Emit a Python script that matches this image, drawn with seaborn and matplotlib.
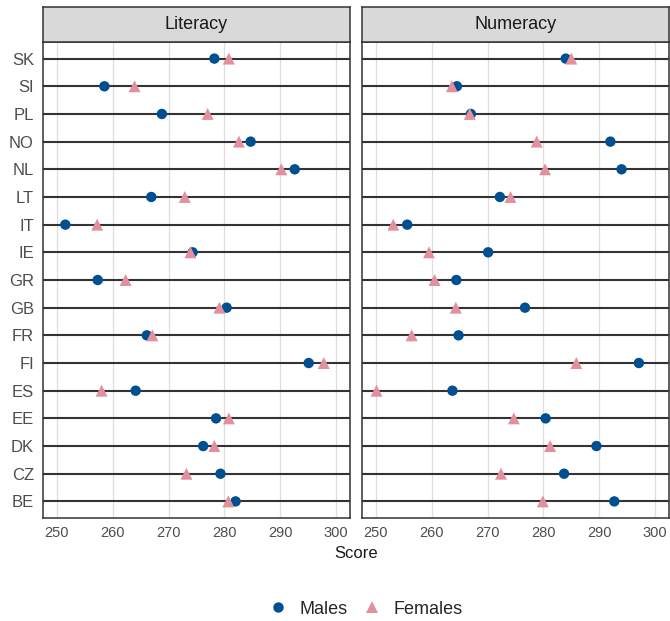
import matplotlib
matplotlib.use("Agg")
import matplotlib.pyplot as plt
import seaborn as sns
import pandas as pd

countries = ["BE", "CZ", "DK", "EE", "ES", "FI", "FR", "GB", "GR",
             "IE", "IT", "LT", "NL", "NO", "PL", "SI", "SK"]

lit_males = [282.0, 279.3, 276.2, 278.5, 264.1, 295.1, 266.1, 280.4, 257.3,
             274.3, 251.5, 266.9, 292.6, 284.7, 268.8, 258.5, 278.2]
lit_females = [280.7, 273.2, 278.2, 280.8, 258.0, 297.8, 267.1, 279.1, 262.3,
               273.9, 257.2, 272.9, 290.2, 282.6, 277.0, 263.9, 280.8]
num_males = [292.7, 283.7, 289.5, 280.4, 263.7, 297.1, 264.8, 276.7, 264.4,
             270.1, 255.6, 272.2, 294.0, 292.0, 267.0, 264.5, 284.0]
num_females = [279.9, 272.4, 281.2, 274.7, 250.1, 285.9, 256.4, 264.3, 260.5,
               259.5, 253.1, 274.1, 280.3, 278.8, 266.8, 263.6, 285.0]

panels = ["Literacy", "Numeracy"]
groups = ["Males", "Females"]
x_ticks = [250, 260, 270, 280, 290, 300]

rows = []
for panel, m, f in [("Literacy", lit_males, lit_females),
                    ("Numeracy", num_males, num_females)]:
    for c, vm, vf in zip(countries, m, f):
        rows.append({"panel": panel, "country": c, "group": "Males", "score": vm})
        rows.append({"panel": panel, "country": c, "group": "Females", "score": vf})
df = pd.DataFrame(rows)

sns.set_theme(style="white")
plt.rcParams["font.family"] = ["Liberation Sans", "DejaVu Sans"]

palette = {"Males": "#004F91", "Females": "#E2909E"}
markers = {"Males": "o", "Females": "^"}
sizes = {"Males": 56, "Females": 74}

W, H = 670, 621
fig = plt.figure(figsize=(W / 100, H / 100), dpi=100)

edge = "#333333"
panel_left = [43, 362]
panel_w = 307
top_px, bottom_px = 42, 518
strip_top = 7

axes = []
for i, panel in enumerate(panels):
    l = panel_left[i] / W
    b = 1 - bottom_px / H
    h = (bottom_px - top_px) / H
    ax = fig.add_axes([l, b, panel_w / W, h])
    sub = df[df["panel"] == panel]
    sns.scatterplot(data=sub, x="score", y="country", hue="group", style="group",
                    size="group", hue_order=groups, style_order=groups,
                    size_order=groups, sizes=sizes, palette=palette,
                    markers=markers, linewidth=0, ax=ax, zorder=3,
                    legend=(i == 0))
    ax.set_xlim(247.5, 302.5)
    ax.set_ylim(-0.6, len(countries) - 0.4)
    ax.set_xticks(x_ticks)
    ax.set_xticklabels([str(t) for t in x_ticks])
    ax.set_axisbelow(True)
    ax.grid(axis="x", color="#DEDEDE", lw=0.9)
    ax.grid(axis="y", color="#333333", lw=1.5)
    for s in ax.spines.values():
        s.set_color(edge)
        s.set_linewidth(1.1)
    ax.set_xlabel("")
    ax.set_ylabel("")
    ax.tick_params(axis="x", colors=edge, length=3.5, width=0.9,
                   labelsize=10.5, labelcolor="#4D4D4D", pad=2)
    if i == 0:
        ax.tick_params(axis="y", colors=edge, length=3.5, width=0.9,
                       labelsize=12, labelcolor="#4D4D4D", pad=3)
    else:
        ax.tick_params(axis="y", length=0, labelleft=False)
    # strip
    sax = fig.add_axes([l, 1 - top_px / H, panel_w / W, (top_px - strip_top) / H])
    sax.set_facecolor("#D9D9D9")
    sax.set_xticks([])
    sax.set_yticks([])
    for s in sax.spines.values():
        s.set_color(edge)
        s.set_linewidth(1.1)
    sax.text(0.5, 0.5, panel, ha="center", va="center", fontsize=13,
             color="#1A1A1A", transform=sax.transAxes)
    axes.append(ax)

handles, labels = axes[0].get_legend_handles_labels()
axes[0].get_legend().remove()
fig.legend(handles, labels, loc="center", bbox_to_anchor=(366 / W, 1 - 609 / H),
           ncol=2, frameon=False, fontsize=13, handlelength=1.0,
           handletextpad=0.7, columnspacing=0.85)

fig.text(356 / W, 1 - 553 / H, "Score", ha="center", va="center",
         fontsize=12, color="#1A1A1A")

fig.savefig("out.png", dpi=100, facecolor="white")
